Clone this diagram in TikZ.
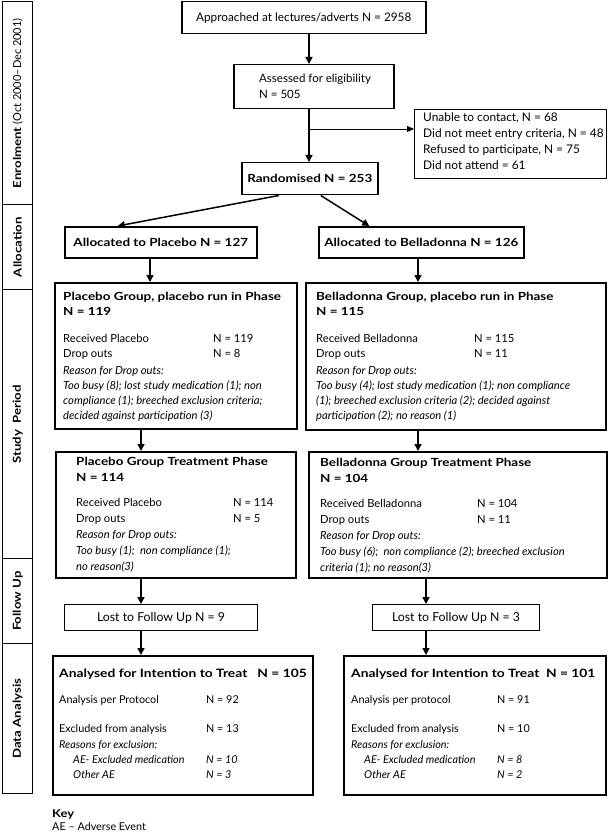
\documentclass[tikz,border=0pt]{standalone}
\usepackage{fontspec}
\setmainfont{Lato}[BoldFeatures={FakeStretch=1.2}]
\usetikzlibrary{arrows.meta}
\tikzset{
box/.style={
  draw,
  line width=1.5pt,
  inner sep=0pt,
  anchor=north west
},
boxthin/.style={box,line width=1.1pt},
txt/.style={
  anchor=north west,
  inner sep=0pt,
  align=left,
  font=\fontsize{11.2}{15}\selectfont
},
mid/.style={inner sep=0pt,font=\fontsize{11.2}{15}\selectfont},
side/.style={box,line width=1.4pt,minimum width=30pt},
sidetext/.style={rotate=90,inner sep=0pt,font=\fontsize{11}{12}\selectfont},
arr/.style={line width=1.5pt,-{Triangle[length=7pt,width=7pt]}},
arrthin/.style={line width=0.9pt,-{Triangle[length=7pt,width=6pt]}},
}
\newcommand{\ncol}[2]{\makebox[#1][l]{#2}}

\begin{document}
\begin{tikzpicture}[x=1pt,y=-1pt]
\useasboundingbox (0,0) rectangle (609,834);
% the phase strip
\node[side,minimum height=203pt] (sEnr) at (2,1) {};
\node[side,minimum height=85pt] (sAll) at (2,204) {};
\node[side,minimum height=269pt] (sStu) at (2,289) {};
\node[side,minimum height=85pt] (sFol) at (2,558) {};
\node[side,minimum height=150pt] (sDat) at (2,643) {};
\node[sidetext] (tEnr) at (sEnr.center) {\textbf{Enrolment} (Oct 2000--Dec 2001)};
\node[sidetext] (tAll) at (sAll.center) {\textbf{Allocation}};
\node[sidetext] (tStu) at (sStu.center) {\textbf{Study\ \ Period}};
\node[sidetext] (tFol) at (sFol.center) {\textbf{Follow Up}};
\node[sidetext] (tDat) at (sDat.center) {\textbf{Data Analysis}};
% enrolment
\node[box,minimum width=244pt,minimum height=32pt] (top) at (181,1) {};
\node[mid,font=\fontsize{11.8}{15}\selectfont] (topT) at (top.center) {Approached at lectures/adverts N = 2958};
\node[box,minimum width=160pt,minimum height=44pt] (elig) at (233,64) {};
\node[txt,font=\fontsize{11.5}{16}\selectfont] (eligT) at (259,73.5) {Assessed for eligibility\\N = 505};
\node[boxthin,minimum width=192pt,minimum height=69pt] (excl) at (414,109) {};
\node[txt,font=\fontsize{11.9}{16}\selectfont] (exclT) at (423,113) {Unable to contact, N = 68\\
Did not meet entry criteria, N = 48\\
Refused to participate, N = 75\\
Did not attend = 61};
\node[box,minimum width=136pt,minimum height=32pt] (rand) at (241,162) {};
\node[mid] (randT) at (rand.center) {\textbf{Randomised N = 253}};
% allocation
\node[box,minimum width=192pt,minimum height=31pt] (allocP) at (64,226) {};
\node[mid] (allocPT) at (allocP.center) {\textbf{Allocated to Placebo N = 127}};
\node[box,minimum width=205pt,minimum height=31pt] (allocB) at (318,226) {};
\node[mid] (allocBT) at (allocB.center) {\textbf{Allocated to Belladonna N = 126}};
% run in phase
\node[box,minimum width=242pt,minimum height=146pt] (runP) at (54,282) {};
\node[txt] (runPT) at (63,291.5) {\textbf{Placebo Group, placebo run in Phase}\\
\textbf{N = 119}\\[12pt]
\ncol{150pt}{Received Placebo}N = 119\\
\ncol{150pt}{Drop outs}N = 8\\[2pt]
\textit{Reason for Drop outs:}\\
\textit{Too busy (8); lost study medication (1); non}\\
\textit{compliance (1); breeched exclusion criteria;}\\
\textit{decided against participation (3)}};
\node[box,minimum width=300pt,minimum height=147pt] (runB) at (305,282) {};
\node[txt] (runBT) at (316,291.5) {\textbf{Belladonna Group, placebo run in Phase}\\
\textbf{N = 115}\\[12pt]
\ncol{158pt}{Received Belladonna}N = 115\\
\ncol{158pt}{Drop outs}N = 11\\[2pt]
\textit{Reason for Drop outs:}\\
\textit{Too busy (4); lost study medication (1); non compliance}\\
\textit{(1); breeched exclusion criteria (2); decided against}\\
\textit{participation (2); no reason (1)}};
% treatment phase
\node[box,minimum width=240pt,minimum height=126pt] (treatP) at (55,451) {};
\node[txt,font=\fontsize{11.2}{16}\selectfont] (treatPT) at (76,456.5) {\textbf{Placebo Group Treatment Phase}\\
\textbf{N = 114}\\[9pt]
\ncol{157pt}{Received Placebo}N = 114\\
\ncol{157pt}{Drop outs}N = 5\\
\textit{Reason for Drop outs:}\\
\textit{Too busy (1);\ \ non compliance (1);}\\
\textit{no reason(3)}};
\node[box,minimum width=298pt,minimum height=126pt] (treatB) at (308,451) {};
\node[txt,font=\fontsize{11.2}{16}\selectfont] (treatBT) at (320,457.5) {\textbf{Belladonna Group Treatment Phase}\\
\textbf{N = 104}\\[9pt]
\ncol{157pt}{Received Belladonna}N = 104\\
\ncol{157pt}{Drop outs}N = 11\\
\textit{Reason for Drop outs:}\\
\textit{Too busy (6);\ \ non compliance (2); breeched exclusion}\\
\textit{criteria (1); no reason(3)}};
% follow up
\node[boxthin,minimum width=193pt,minimum height=26pt] (lostP) at (64,604) {};
\node[mid,font=\fontsize{12.3}{15}\selectfont] (lostPT) at (lostP.center) {Lost to Follow Up N = 9};
\node[boxthin,minimum width=167pt,minimum height=26pt] (lostB) at (372,604) {};
\node[mid,font=\fontsize{12.3}{15}\selectfont] (lostBT) at (lostB.center) {Lost to Follow Up N = 3};
% data analysis
\node[box,minimum width=260pt,minimum height=139pt] (itP) at (52,655) {};
\node[txt,font=\fontsize{10.8}{15}\selectfont] (itPT) at (59,668.5) {{\fontsize{11.5}{15}\selectfont\textbf{Analysed for Intention to Treat\ \ \ N = 105}}\\[11pt]
\ncol{147pt}{Analysis per Protocol}N = 92\\[14pt]
\ncol{147pt}{Excluded from analysis}N = 13\\[1pt]
\textit{Reasons for exclusion:}\\
\hspace*{14pt}\ncol{133pt}{\textit{AE- Excluded medication}}\textit{N = 10}\\
\hspace*{14pt}\ncol{133pt}{\textit{Other AE}}\textit{N = 3}};
\node[box,minimum width=262pt,minimum height=139pt] (itB) at (343,655) {};
\node[txt,font=\fontsize{10.8}{15}\selectfont] (itBT) at (351,668.5) {{\fontsize{11.5}{15}\selectfont\textbf{Analysed for Intention to Treat\ \ N = 101}}\\[11pt]
\ncol{146pt}{Analysis per protocol}N = 91\\[14pt]
\ncol{146pt}{Excluded from analysis}N = 10\\[1pt]
\textit{Reasons for exclusion:}\\
\hspace*{13pt}\ncol{133pt}{\textit{AE- Excluded medication}}\textit{N = 8}\\
\hspace*{13pt}\ncol{133pt}{\textit{Other AE}}\textit{N = 2}};
% key
\node[txt,font=\fontsize{10.8}{13}\selectfont] (key) at (52,809) {\textbf{Key}\\AE -- Adverse Event};
% the arrows
\coordinate (cM) at (309,0);
\coordinate (cA) at (150,0);
\coordinate (cL) at (141,0);
\coordinate (cB) at (418,0);
\coordinate (cR) at (426,0);
\coordinate (split) at (309,129);
\draw[arr] (top.south -| cM) -- (elig.north -| cM);
\draw[arr] (elig.south -| cM) -- (rand.north -| cM);
\draw[arrthin] (split) -- (split -| excl.west);
\draw[arr] ([xshift=-31pt]rand.south) -- ([xshift=-43pt]allocP.north);
\draw[arr] ([xshift=11pt]rand.south) -- ([xshift=-52pt]allocB.north);
\draw[arr] (allocP.south -| cA) -- (runP.north -| cA);
\draw[arr] (allocB.south -| cB) -- (runB.north -| cB);
\draw[arr] (runP.south -| cL) -- (treatP.north -| cL);
\draw[arr] (runB.south -| cB) -- (treatB.north -| cB);
\draw[arr] (treatP.south -| cL) -- (lostP.north -| cL);
\draw[arr] (treatB.south -| cR) -- (lostB.north -| cR);
\draw[arr] (lostP.south -| cL) -- (itP.north -| cL);
\draw[arr] (lostB.south -| cR) -- (itB.north -| cR);
\end{tikzpicture}
\end{document}
